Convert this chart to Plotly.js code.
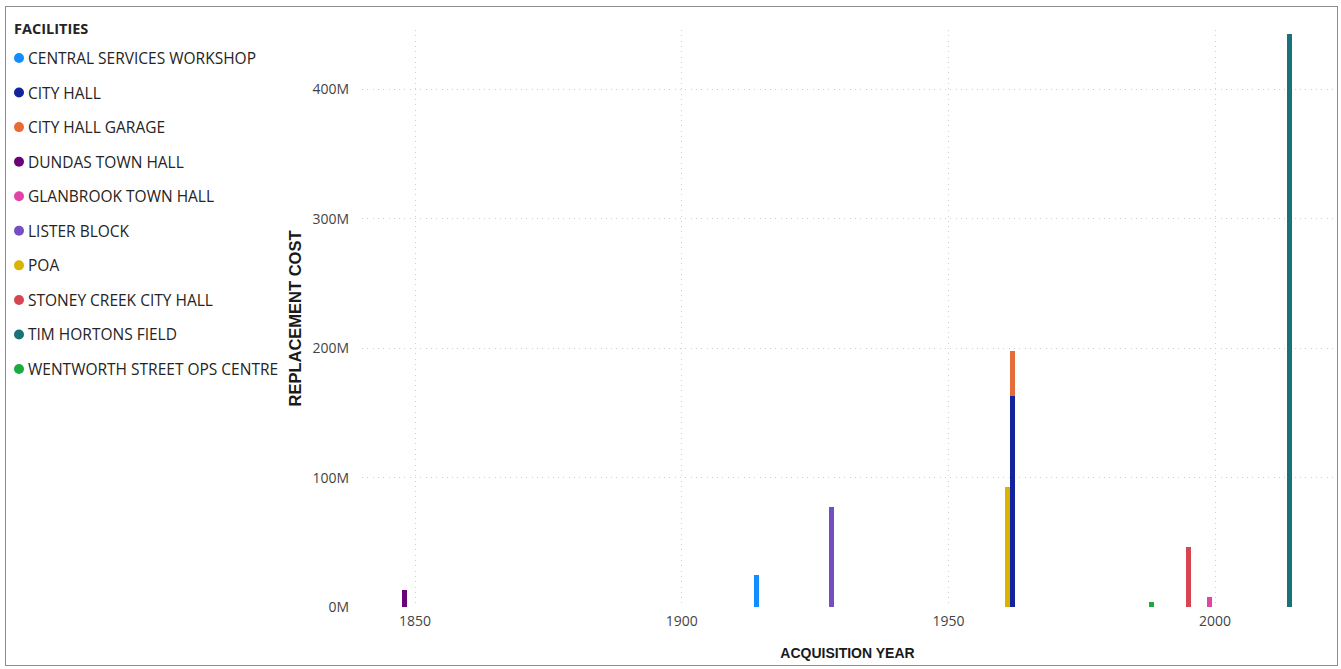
<!DOCTYPE html>
<html>
<head>
<meta charset="utf-8">
<script src="https://cdn.plot.ly/plotly-3.0.1.min.js"></script>
<style>
html,body{margin:0;padding:0;background:#fff;}
#wrap{position:relative;width:1341px;height:669px;}
#chart{width:1341px;height:669px;}
#frame{position:absolute;left:5px;top:6px;width:1333px;height:660px;border:1px solid #8c8c8c;box-sizing:border-box;pointer-events:none;}
</style>
</head>
<body>
<div id="wrap"><div id="chart"></div><div id="frame"></div></div>
<script>
// Data
const facilities = [
  "CENTRAL SERVICES WORKSHOP",
  "CITY HALL",
  "CITY HALL GARAGE",
  "DUNDAS TOWN HALL",
  "GLANBROOK TOWN HALL",
  "LISTER BLOCK",
  "POA",
  "STONEY CREEK CITY HALL",
  "TIM HORTONS FIELD",
  "WENTWORTH STREET OPS CENTRE"
];
const acquisitionYears = [1914, 1962, 1962, 1848, 1999, 1928, 1961, 1995, 2014, 1988];
const replacementCosts = [25e6, 163e6, 35e6, 13e6, 8e6, 77e6, 93e6, 46e6, 443e6, 4e6];
const colors = ["#118DFF","#12239E","#E66C37","#6B007B","#E044A7","#744EC2","#D9B300","#D64550","#197278","#1AAB40"];
const yTickVals = [0, 100e6, 200e6, 300e6, 400e6];
const yTickText = ["0M", "100M", "200M", "300M", "400M"];
const xTickVals = [1850, 1900, 1950, 2000];
const legendTitle = "FACILITIES";

// Layout geometry (pixels)
const W = 1341, H = 669;
const M = {l: 362, r: 8, t: 30, b: 62};
const PW = W - M.l - M.r, PH = H - M.t - M.b;
const px2x = px => (px - M.l) / PW;
const py2y = py => 1 - (py - M.t) / PH;

const traces = facilities.map((name, i) => ({
  type: "bar",
  x: [acquisitionYears[i]],
  y: [replacementCosts[i]],
  width: 0.95,
  name: name,
  showlegend: false,
  marker: {color: colors[i], line: {width: 0}},
  hovertemplate: name + "<br>%{x}: %{y}<extra></extra>"
}));

// Custom legend (Power BI style: small circles, tight text)
const legendFont = {family: "'Open Sans', 'Noto Sans', sans-serif", size: 15.5, color: "#252423"};
const annotations = [{
  xref: "paper", yref: "paper", x: px2x(12), y: py2y(28),
  xanchor: "left", yanchor: "middle", showarrow: false,
  text: "<b>" + legendTitle + "</b>",
  font: {family: "'Open Sans', 'Noto Sans', sans-serif", size: 14.5, color: "#252423"}
}];
const shapes = [];
facilities.forEach((name, i) => {
  const cy = 58 + i * 34.56;
  annotations.push({
    xref: "paper", yref: "paper", x: px2x(26), y: py2y(cy),
    xanchor: "left", yanchor: "middle", showarrow: false,
    text: name, font: legendFont
  });
  shapes.push({
    type: "circle", xref: "paper", yref: "paper",
    xsizemode: "pixel", ysizemode: "pixel",
    xanchor: px2x(19), yanchor: py2y(cy),
    x0: -5, x1: 5, y0: -5, y1: 5,
    fillcolor: colors[i], line: {width: 0}
  });
});

const layout = {
  width: W,
  height: H,
  margin: M,
  paper_bgcolor: "#ffffff",
  plot_bgcolor: "#ffffff",
  barmode: "stack",
  bargap: 0,
  showlegend: false,
  font: {family: "'Open Sans', 'Noto Sans', sans-serif", color: "#444444", size: 14},
  xaxis: {
    range: [1840.06, 2022.1],
    tickvals: xTickVals,
    ticktext: xTickVals.map(String),
    showgrid: true,
    gridcolor: "#CFCFCF",
    griddash: "1px,4.3px",
    gridwidth: 1,
    zeroline: false,
    showline: false,
    ticks: "",
    automargin: false,
    ticklabelstandoff: 4,
    tickfont: {size: 14, color: "#444444"},
    title: {text: "ACQUISITION YEAR", font: {family: "'Liberation Sans', Arial, sans-serif", size: 14, color: "#1a1a1a", weight: "bold"}, standoff: 19}
  },
  yaxis: {
    range: [0, 446e6],
    tickvals: yTickVals,
    ticktext: yTickText,
    showgrid: true,
    gridcolor: "#CFCFCF",
    griddash: "1px,4.3px",
    gridwidth: 1,
    zeroline: false,
    showline: false,
    ticks: "",
    automargin: false,
    ticklabelstandoff: 12,
    tickfont: {size: 14, color: "#444444"},
    title: {text: "REPLACEMENT COST", font: {family: "'Liberation Sans', Arial, sans-serif", size: 16.5, color: "#1a1a1a", weight: "bold"}, standoff: 6}
  },
  annotations: annotations,
  shapes: shapes
};

Plotly.newPlot("chart", traces, layout, {displayModeBar: false, responsive: false});
</script>
</body>
</html>
